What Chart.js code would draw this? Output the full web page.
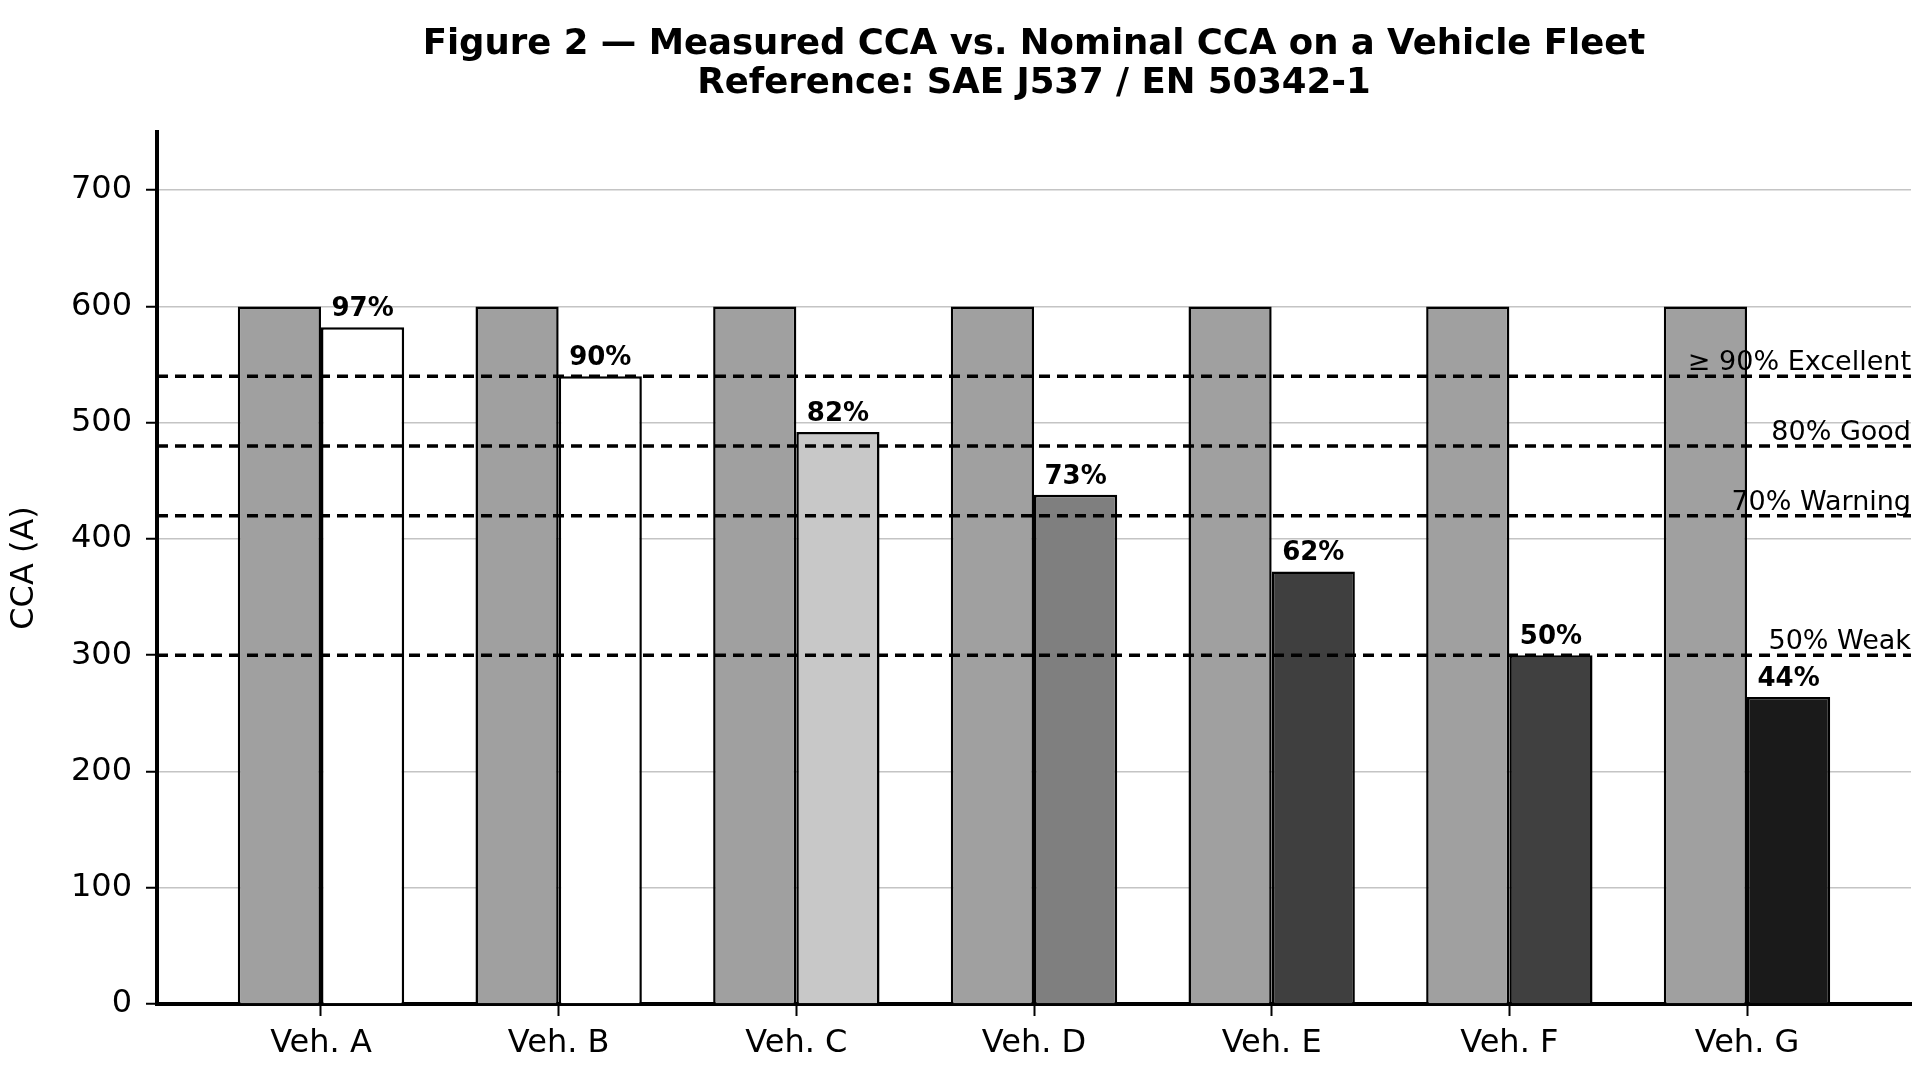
<!DOCTYPE html>
<html>
<head>
<meta charset="utf-8">
<script src="https://cdn.jsdelivr.net/npm/chart.js@4.4.1/dist/chart.umd.min.js"></script>
<style>
    html, body { margin: 0; padding: 0; background: #fff; }
    .chart_box { width: 1920px; height: 1080px; position: relative; }
</style>
</head>
<body>
<div class="chart_box"><canvas id="myChart"></canvas></div>
<script>
const categories = ["Veh. A", "Veh. B", "Veh. C", "Veh. D", "Veh. E", "Veh. F", "Veh. G"];
const nominalCCA = [600, 600, 600, 600, 600, 600, 600];
const measuredCCA = [582, 540, 492, 438, 372, 300, 264];
const measuredPct = [97, 90, 82, 73, 62, 50, 44];
const measuredColors = ["#ffffff", "#ffffff", "#c8c8c8", "#7f7f7f", "#3f3f3f", "#404040", "#1a1a1a"];
const thresholdValues = [540, 480, 420, 300];
const thresholdLabels = ["≥ 90% Excellent", "80% Good", "70% Warning", "50% Weak"];
const yTicks = [0, 100, 200, 300, 400, 500, 600, 700];
const titleLines = ["Figure 2 — Measured CCA vs. Nominal CCA on a Vehicle Fleet", "Reference: SAE J537 / EN 50342-1"];

const xMin = -0.69;
const xMax = 6.69;
const font = '"DejaVu Sans", sans-serif';

Chart.defaults.color = "#000";
Chart.defaults.font.family = font;

// titles, percent labels and threshold captions
const annotate = {
    id: "annotate",
    afterDraw(chart) {
        const ctx = chart.ctx;
        const area = chart.chartArea;
        const y = chart.scales.y;
        ctx.save();
        ctx.fillStyle = "#000";

        ctx.textAlign = "center";
        ctx.textBaseline = "middle";
        ctx.font = "bold 35.5px " + font;
        let cx = (area.left + area.right) / 2;
        ctx.fillText(titleLines[0], cx, 45);
        ctx.fillText(titleLines[1], cx, 84);

        ctx.textBaseline = "alphabetic";
        ctx.font = "bold 26px " + font;
        chart.getDatasetMeta(1).data.forEach((bar, i) => {
            ctx.fillText(measuredPct[i] + "%", bar.x, bar.y - 11);
        });

        ctx.textAlign = "right";
        ctx.font = "27px " + font;
        thresholdValues.forEach((v, i) => {
            ctx.fillText(thresholdLabels[i], area.right, y.getPixelForValue(v) - 6);
        });
        ctx.restore();
    }
};

let datasets = [
    {
        type: "bar",
        data: categories.map((c, i) => ({x: i, y: nominalCCA[i]})),
        backgroundColor: "#a0a0a0",
        borderColor: "#000",
        borderWidth: 2.5,
        categoryPercentage: 0.7,
        barPercentage: 1.0,
        order: 1
    },
    {
        type: "bar",
        data: categories.map((c, i) => ({x: i, y: measuredCCA[i]})),
        backgroundColor: measuredColors,
        borderColor: "#000",
        borderWidth: 2.5,
        categoryPercentage: 0.7,
        barPercentage: 1.0,
        order: 1
    }
];

thresholdValues.forEach(v => {
    datasets.push({
        type: "line",
        data: [{x: xMin, y: v}, {x: xMax, y: v}],
        borderColor: "#000",
        borderWidth: 3.5,
        borderDash: [11, 7],
        pointRadius: 0,
        fill: false,
        order: 0
    });
});

new Chart(document.getElementById("myChart"), {
    type: "bar",
    data: { datasets: datasets },
    plugins: [annotate],
    options: {
        responsive: true,
        maintainAspectRatio: false,
        animation: false,
        layout: { padding: { top: 132, right: 9, left: 0, bottom: 0 } },
        plugins: {
            legend: { display: false },
            tooltip: { enabled: false },
            title: { display: false }
        },
        scales: {
            x: {
                type: "linear",
                min: xMin,
                max: xMax,
                offset: false,
                z: 1,
                afterBuildTicks: axis => {
                    axis.ticks = categories.map((c, i) => ({value: i}));
                },
                afterFit: axis => { axis.height = 76; },
                ticks: {
                    callback: v => categories[v],
                    font: { size: 32 },
                    padding: 8,
                    maxRotation: 0,
                    autoSkip: false
                },
                grid: {
                    offset: false,
                    drawOnChartArea: false,
                    drawTicks: true,
                    tickLength: 12,
                    tickColor: "#000",
                    tickWidth: 2
                },
                border: { display: true, color: "#000", width: 4 }
            },
            y: {
                min: 0,
                max: 750,
                z: 1,
                afterBuildTicks: axis => {
                    axis.ticks = yTicks.map(v => ({value: v}));
                },
                afterFit: axis => { axis.width = 157; },
                ticks: {
                    font: { size: 32 },
                    padding: 14
                },
                grid: {
                    color: c => (c.tick && (c.tick.value === 0 || thresholdValues.includes(c.tick.value))) ? "rgba(0,0,0,0)" : "#c4c4c4",
                    lineWidth: 1.5,
                    tickLength: 11,
                    tickColor: "#000",
                    tickWidth: 2
                },
                border: { display: true, color: "#000", width: 4 },
                title: {
                    display: true,
                    text: "CCA (A)",
                    font: { size: 32 },
                    padding: { top: 5, bottom: 0 }
                }
            }
        }
    }
});
</script>
</body>
</html>
